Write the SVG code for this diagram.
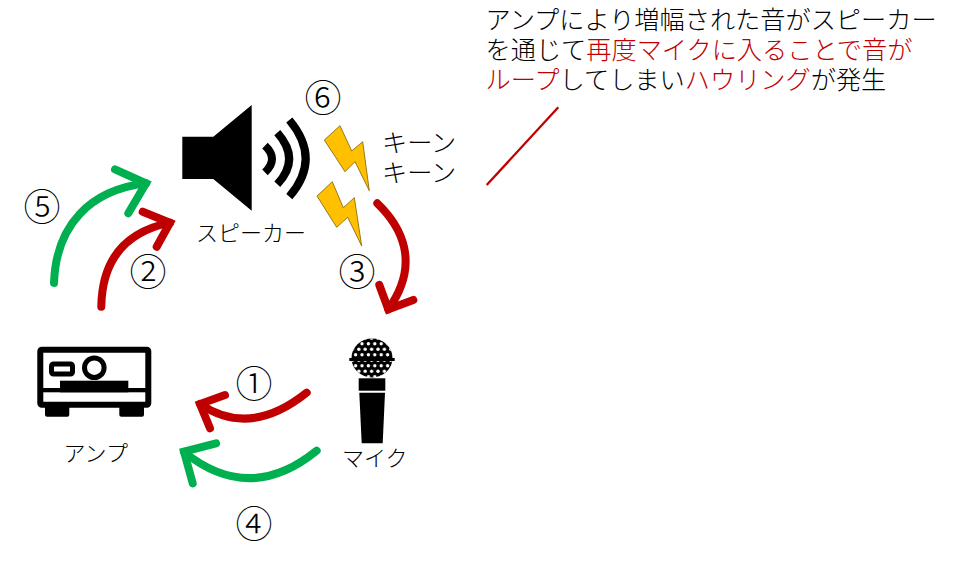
<svg xmlns="http://www.w3.org/2000/svg" width="960" height="574" viewBox="0 0 960 574">
<style>
text{font-family:"Noto Sans CJK JP","Noto Sans",sans-serif;fill:#000;font-weight:300}
.l{font-size:25.2px}
.s{font-size:22px}
.n{font-size:37px;text-anchor:middle}
.r{fill:#C00000}
.a{fill:none;stroke-width:8px;stroke-linecap:round;stroke-linejoin:miter}
.red{stroke:#C00000}
.green{stroke:#00B050}
.bolt{fill:#FFC000;stroke:#7F6000;stroke-width:.8px}
.wave{fill:none;stroke:#000;stroke-width:8px}
</style>
<defs>
<pattern id="dots" width="6.4" height="11" patternUnits="userSpaceOnUse" x="0.4" y="341">
<circle cx="3.2" cy="2.7" r="1.7" fill="#fff"/>
<circle cx="0" cy="8.2" r="1.7" fill="#fff"/>
<circle cx="6.4" cy="8.2" r="1.7" fill="#fff"/>
</pattern>
</defs>
<rect width="960" height="574" fill="#fff"/>
<g id="speaker">
<path d="M182.3 136.7H213.3L251.7 105V210.7L213.3 179H182.3Z"/>
<path class="wave" d="M265 145.7Q279 159 265 172.3"/>
<path class="wave" d="M277.3 132.7Q301 159.3 277.3 184.3"/>
<path class="wave" d="M289.3 120Q322 159 289.3 196.7"/>
<text class="s" x="196" y="241">スピーカー</text>
</g>
<g id="howl">
<polygon class="bolt" points="324.3,140 340,125.7 351.7,151 362.7,141.7 369.3,190.7 355,161.7 345,171.7"/>
<polygon class="bolt" points="317,196 332.3,181.7 343.3,207.7 354.3,197.7 361.7,246 347.7,217.3 336.7,227.3"/>
<text class="l" x="382" y="152">キーン</text>
<text class="l" x="382" y="182">キーン</text>
</g>
<g id="amp">
<rect x="40.3" y="349.7" width="108" height="55" rx="1.5" fill="#fff" stroke="#000" stroke-width="6"/>
<rect x="60" y="380.7" width="68.3" height="11.6"/>
<rect x="40" y="388" width="108" height="4.3"/>
<path d="M45 406H69.3V414.7a2 2 0 0 1-2 2H47a2 2 0 0 1-2-2Z"/>
<path d="M119.3 406H144V414.7a2 2 0 0 1-2 2H121.3a2 2 0 0 1-2-2Z"/>
<circle cx="94.3" cy="367.7" r="9.8" fill="#fff" stroke="#000" stroke-width="5"/>
<rect x="51.5" y="364" width="21" height="10" rx="2" fill="#fff" stroke="#000" stroke-width="5"/>
<text class="s" x="63.5" y="461">アンプ</text>
</g>
<g id="mic">
<ellipse cx="372" cy="358" rx="20.5" ry="19.5"/>
<ellipse cx="372" cy="358" rx="20.5" ry="19.5" fill="url(#dots)"/>
<rect x="349.3" y="358" width="45.4" height="3"/>
<rect x="358.7" y="378.3" width="26.6" height="12.4"/>
<path d="M359.3 392.7H385L382.7 443.3H361.7Z"/>
<text class="s" x="342" y="466">マイク</text>
</g>
<g id="connectors">
<path class="a red" d="M306.7 392.7Q250 438 200 404"/>
<path class="a red" d="M225 395L200 404L210 428.3"/>
<path class="a green" d="M316.7 450.7Q250 505 184 452"/>
<path class="a green" d="M216 443.3L184 451.7L192.7 483.3"/>
<path class="a green" d="M54 283C56 225 90 190 146 183.3"/>
<path class="a green" d="M115 169.3L146 183.3L128.3 213.3"/>
<path class="a red" d="M101.3 306.7C102 260 125 232 170 222.7"/>
<path class="a red" d="M142.7 211.7L170 222.7L156.7 246.7"/>
<path class="a red" d="M377.3 203.3C400 225 422 262 388.3 309.3"/>
<path class="a red" d="M379.3 285L388.3 309.3L413.3 300"/>
<line x1="486.7" y1="185" x2="558.3" y2="107.3" stroke="#C00000" stroke-width="2.3"/>
</g>
<g id="numbers">
<text class="n" x="323" y="112">⑥</text>
<text class="n" x="254" y="398">①</text>
<text class="n" x="254" y="538">④</text>
<text class="n" x="42" y="221">⑤</text>
<text class="n" x="148" y="286">②</text>
<text class="n" x="357" y="286">③</text>
</g>
<g id="caption">
<text class="l" x="485.5" y="29">アンプにより増幅された音がスピーカー</text>
<text class="l" x="485.5" y="59">を通じて<tspan class="r">再度マイクに入ることで音が</tspan></text>
<text class="l" x="485.5" y="89"><tspan class="r">ループ</tspan>してしまい<tspan class="r">ハウリング</tspan>が発生</text>
</g>
</svg>
